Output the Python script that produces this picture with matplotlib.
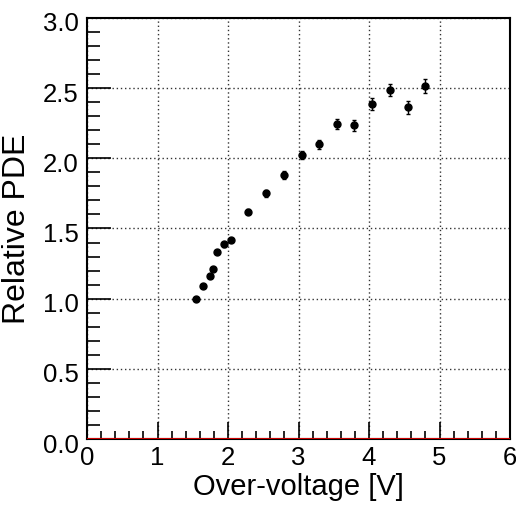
import numpy as np
import matplotlib.pyplot as plt
from matplotlib.ticker import MultipleLocator
import matplotlib.transforms as mtransforms

plt.rcParams['font.family'] = ['Liberation Sans', 'DejaVu Sans']

# over-voltage [V], relative PDE and its error
overv = [1.544, 1.643, 1.742, 1.794, 1.837, 1.941, 2.045, 2.287, 2.54, 2.797,
         3.043, 3.293, 3.543, 3.794, 4.045, 4.295, 4.546, 4.797]
pde = [1.0, 1.09, 1.165, 1.213, 1.334, 1.386, 1.417, 1.62, 1.751, 1.881,
       2.023, 2.10, 2.242, 2.235, 2.389, 2.484, 2.363, 2.516]
pde_err = [0.01, 0.012, 0.012, 0.013, 0.015, 0.015, 0.016, 0.02, 0.024, 0.026,
           0.03, 0.032, 0.036, 0.037, 0.042, 0.043, 0.047, 0.048]

fig = plt.figure(figsize=(5.16, 5.11), dpi=100)
ax = fig.add_axes([0.1686, 0.1409, 0.8198, 0.8239])

ax.errorbar(overv, pde, yerr=pde_err, fmt='o', color='black', ms=5,
            elinewidth=1, capsize=1.5, capthick=1)
ax.axhline(0, color='#cc0000', lw=1.5, zorder=5)

ax.set_xlim(0, 6)
ax.set_ylim(0, 3)
ax.xaxis.set_major_locator(MultipleLocator(1))
ax.xaxis.set_minor_locator(MultipleLocator(0.2))
ax.yaxis.set_major_locator(MultipleLocator(0.5))
ax.yaxis.set_minor_locator(MultipleLocator(0.1))
ax.yaxis.set_major_formatter(plt.FormatStrFormatter('%.1f'))

ax.tick_params(which='both', direction='in', labelsize=18.5, width=1.2)
ax.tick_params(axis='x', which='major', length=12, pad=5)
ax.tick_params(axis='x', which='minor', length=6)
ax.tick_params(axis='y', which='major', length=17, pad=6)
ax.tick_params(axis='y', which='minor', length=9)

# shift y tick labels a bit lower like the original
offset = mtransforms.ScaledTranslation(0, -4 / 100, fig.dpi_scale_trans)
for lab in ax.get_yticklabels():
    lab.set_transform(lab.get_transform() + offset)

ax.grid(True, which='major', linestyle=(0, (1, 2)), color='#333333', lw=1)
for s in ax.spines.values():
    s.set_linewidth(1.5)

ax.set_xlabel('Over-voltage [V]', fontsize=21, labelpad=2)
ax.set_ylabel('Relative PDE', fontsize=23, labelpad=8)

fig.savefig('out.png', dpi=100)
